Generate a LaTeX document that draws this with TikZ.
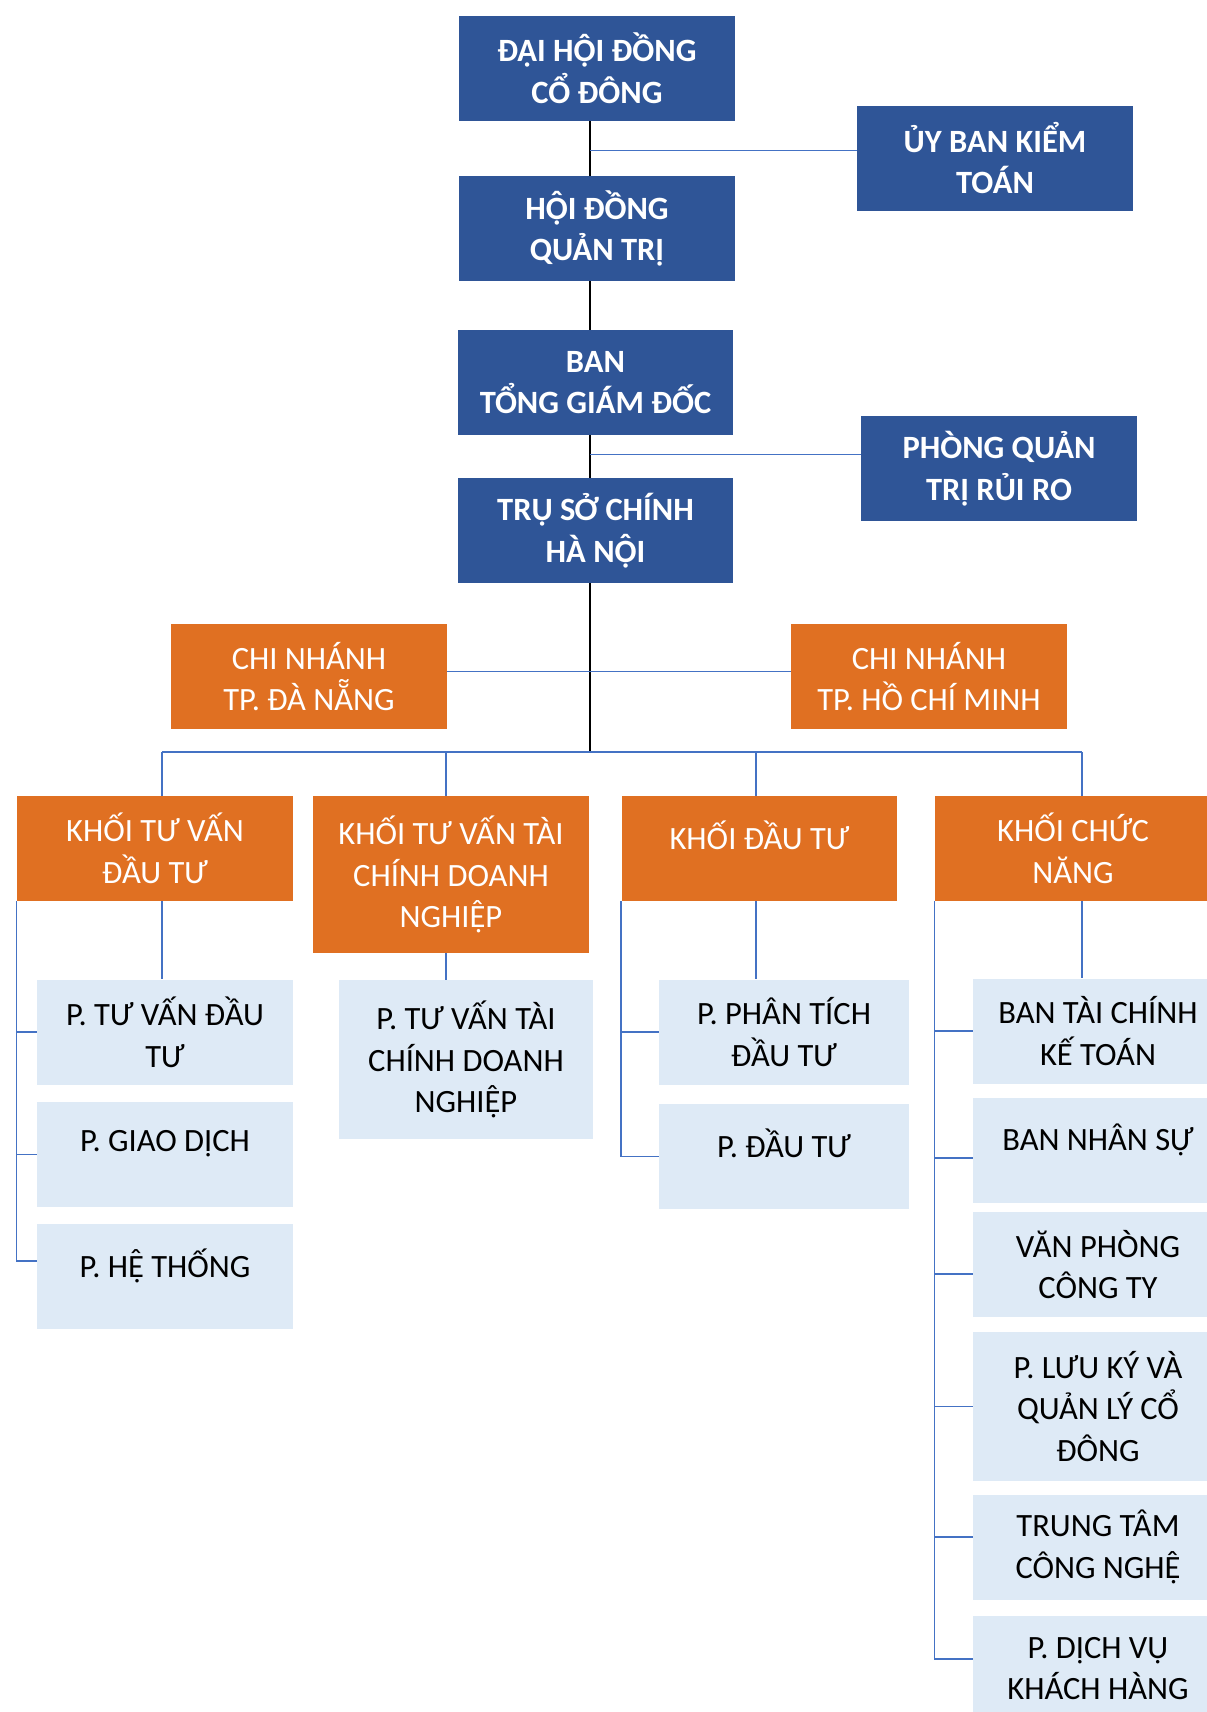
\documentclass[tikz,border=0pt]{standalone}
\usepackage{fontspec}
\setmainfont{Carlito}
\usepackage{xcolor}
\usetikzlibrary{positioning,calc}

\definecolor{topblue}{RGB}{47,85,151}
\definecolor{unitorange}{RGB}{224,112,34}
\definecolor{deptblue}{RGB}{222,234,246}
\definecolor{linkblue}{RGB}{68,114,196}
\newcommand{\orgfont}{\fontsize{18.5}{23.8}\selectfont}
% circumflex + dot below, set by hand
\newcommand{\Ocd}{{\accent"02C6 Ọ}}
\newcommand{\Ecd}{{\accent"02C6 Ẹ}}

\tikzset{
    board/.style={fill=topblue, text=white, font=\orgfont\bfseries, align=center,
        minimum width=5.52cm, minimum height=2.1cm, inner sep=0pt},
    unit/.style={fill=unitorange, text=white, font=\orgfont, align=center,
        minimum width=5.52cm, minimum height=2.1cm, inner sep=0pt},
    dept/.style={fill=deptblue, text=black, font=\orgfont, align=center,
        minimum width=5cm, minimum height=2.1cm, inner sep=0pt},
    oneline/.style={text depth=15pt},
    link/.style={linkblue, line width=0.8pt},
    trunk/.style={black, line width=0.6pt}
}

\begin{document}
\begin{tikzpicture}[x=0.02cm, y=-0.02cm]
    \useasboundingbox (0,0) rectangle (1207,1712);
    \clip (0,0) rectangle (1207,1712);

    % Top management
    \node[board] (dhdcd) at (597, 68.5) {ĐẠI H\Ocd I ĐỒNG\\CỔ ĐÔNG};
    \node[board] (ubkt) at (995, 158) {ỦY BAN KIỂM\\TOÁN};
    \node[board] (hdqt) at (597, 228.5) {H\Ocd I ĐỒNG\\QUẢN TRỊ};
    \node[board] (btgd) at (595.5, 382.5) {BAN\\TỔNG GIÁM ĐỐC};
    \node[board] (pqtrr) at (999, 468.5) {PHÒNG QUẢN\\TRỊ RỦI RO};
    \node[board] (tsc) at (595.5, 530.5) {TRỤ SỞ CHÍNH\\HÀ N\Ocd I};

    % Branches
    \node[unit] (cndn) at (309, 676.5) {CHI NHÁNH\\TP. ĐÀ NẴNG};
    \node[unit] (cnhcm) at (929, 676.5) {CHI NHÁNH\\TP. HỒ CHÍ MINH};

    % Divisions
    \node[unit] (ktvdt) at (155, 848.5) {KHỐI TƯ VẤN\\ĐẦU TƯ};
    \node[unit, minimum height=3.14cm] (ktvtc) at (451, 874.5) {KHỐI TƯ VẤN TÀI\\CHÍNH DOANH\\NGHI\Ecd P};
    \node[unit, oneline] (kdt) at (759.5, 848.5) {KHỐI ĐẦU TƯ};
    \node[unit] (kcn) at (1073, 848.5) {KHỐI CHỨC\\NĂNG};

    % Departments
    \node[dept, minimum width=5.12cm] (ptvdt) at (165, 1032) {P. TƯ VẤN ĐẦU\\TƯ};
    \node[dept, minimum width=5.12cm, oneline] (pgd) at (165, 1154.5) {P. GIAO DỊCH};
    \node[dept, minimum width=5.12cm, oneline] (pht) at (165, 1276) {P. H\Ecd{} THỐNG};
    \node[dept, minimum width=5.08cm, minimum height=3.18cm] (ptvtc) at (466, 1059.5) {P. TƯ VẤN TÀI\\CHÍNH DOANH\\NGHI\Ecd P};
    \node[dept] (pptdt) at (784, 1032) {P. PHÂN TÍCH\\ĐẦU TƯ};
    \node[dept, oneline] (pdt) at (784, 1156.5) {P. ĐẦU TƯ};
    \node[dept] (btckt) at (1098, 1031) {BAN TÀI CHÍNH\\KẾ TOÁN};
    \node[dept, oneline] (bns) at (1098, 1150.5) {BAN NHÂN SỰ};
    \node[dept] (vpct) at (1098, 1264.5) {VĂN PHÒNG\\CÔNG TY};
    \node[dept, minimum height=2.98cm] (plkcd) at (1098, 1406.5) {P. LƯU KÝ VÀ\\QUẢN LÝ CỔ\\ĐÔNG};
    \node[dept] (ttcn) at (1098, 1547) {TRUNG TÂM\\CÔNG NGH\Ecd};
    \node[dept] (pdvkh) at (1098, 1668.5) {P. DỊCH VỤ\\KHÁCH HÀNG};

    % Trunk and bus
    \coordinate (tk) at (590, 0);
    \coordinate (d1) at (162, 752);
    \coordinate (d2) at (446, 752);
    \coordinate (d3) at (756, 752);
    \coordinate (d4) at (1082, 752);
    \draw[trunk] (dhdcd.south -| tk) -- (hdqt.north -| tk);
    \draw[trunk] (hdqt.south -| tk) -- (btgd.north -| tk);
    \draw[trunk] (btgd.south -| tk) -- (tsc.north -| tk);
    \draw[trunk] (tsc.south -| tk) -- (d1 -| tk);

    \coordinate (uk) at ($(ubkt.north west)!0.43!(ubkt.south west)$);
    \coordinate (pq) at ($(pqtrr.north west)!0.37!(pqtrr.south west)$);
    \draw[link] (uk) -- (uk -| tk);
    \draw[link] (pq) -- (pq -| tk);
    \draw[link] ([yshift=3pt]cndn.east) -- ([yshift=3pt]cnhcm.west);

    \draw[link] (d1) -- (d4);
    \draw[link] (d1) -- (ktvdt.north -| d1);
    \draw[link] (d2) -- (ktvtc.north -| d2);
    \draw[link] (d3) -- (kdt.north -| d3);
    \draw[link] (d4) -- (kcn.north -| d4);

    % Division to departments
    \draw[link] (ktvdt.south -| d1) -- (ptvdt.north -| d1);
    \draw[link] (ktvtc.south -| d2) -- (ptvtc.north -| d2);
    \draw[link] (kdt.south -| d3) -- (pptdt.north -| d3);
    \draw[link] (kcn.south -| d4) -- (btckt.north -| d4);

    \draw[link] (ktvdt.south west) |- ([yshift=8.5pt]pht.west);
    \draw[link] (ptvdt.west -| ktvdt.south west) -- (ptvdt.west);
    \draw[link] (pgd.west -| ktvdt.south west) -- (pgd.west);

    \draw[link] (kdt.south west) |- (pdt.west);
    \draw[link] (pptdt.west -| kdt.south west) -- (pptdt.west);

    \draw[link] (kcn.south west) |- ([yshift=5.4pt]pdvkh.west);
    \draw[link] (btckt.west -| kcn.south west) -- (btckt.west);
    \draw[link] ([yshift=-4.3pt]bns.west -| kcn.south west) -- ([yshift=-4.3pt]bns.west);
    \draw[link] ([yshift=-5.4pt]vpct.west -| kcn.south west) -- ([yshift=-5.4pt]vpct.west);
    \draw[link] (plkcd.west -| kcn.south west) -- (plkcd.west);
    \draw[link] ([yshift=5.7pt]ttcn.west -| kcn.south west) -- ([yshift=5.7pt]ttcn.west);
\end{tikzpicture}
\end{document}
